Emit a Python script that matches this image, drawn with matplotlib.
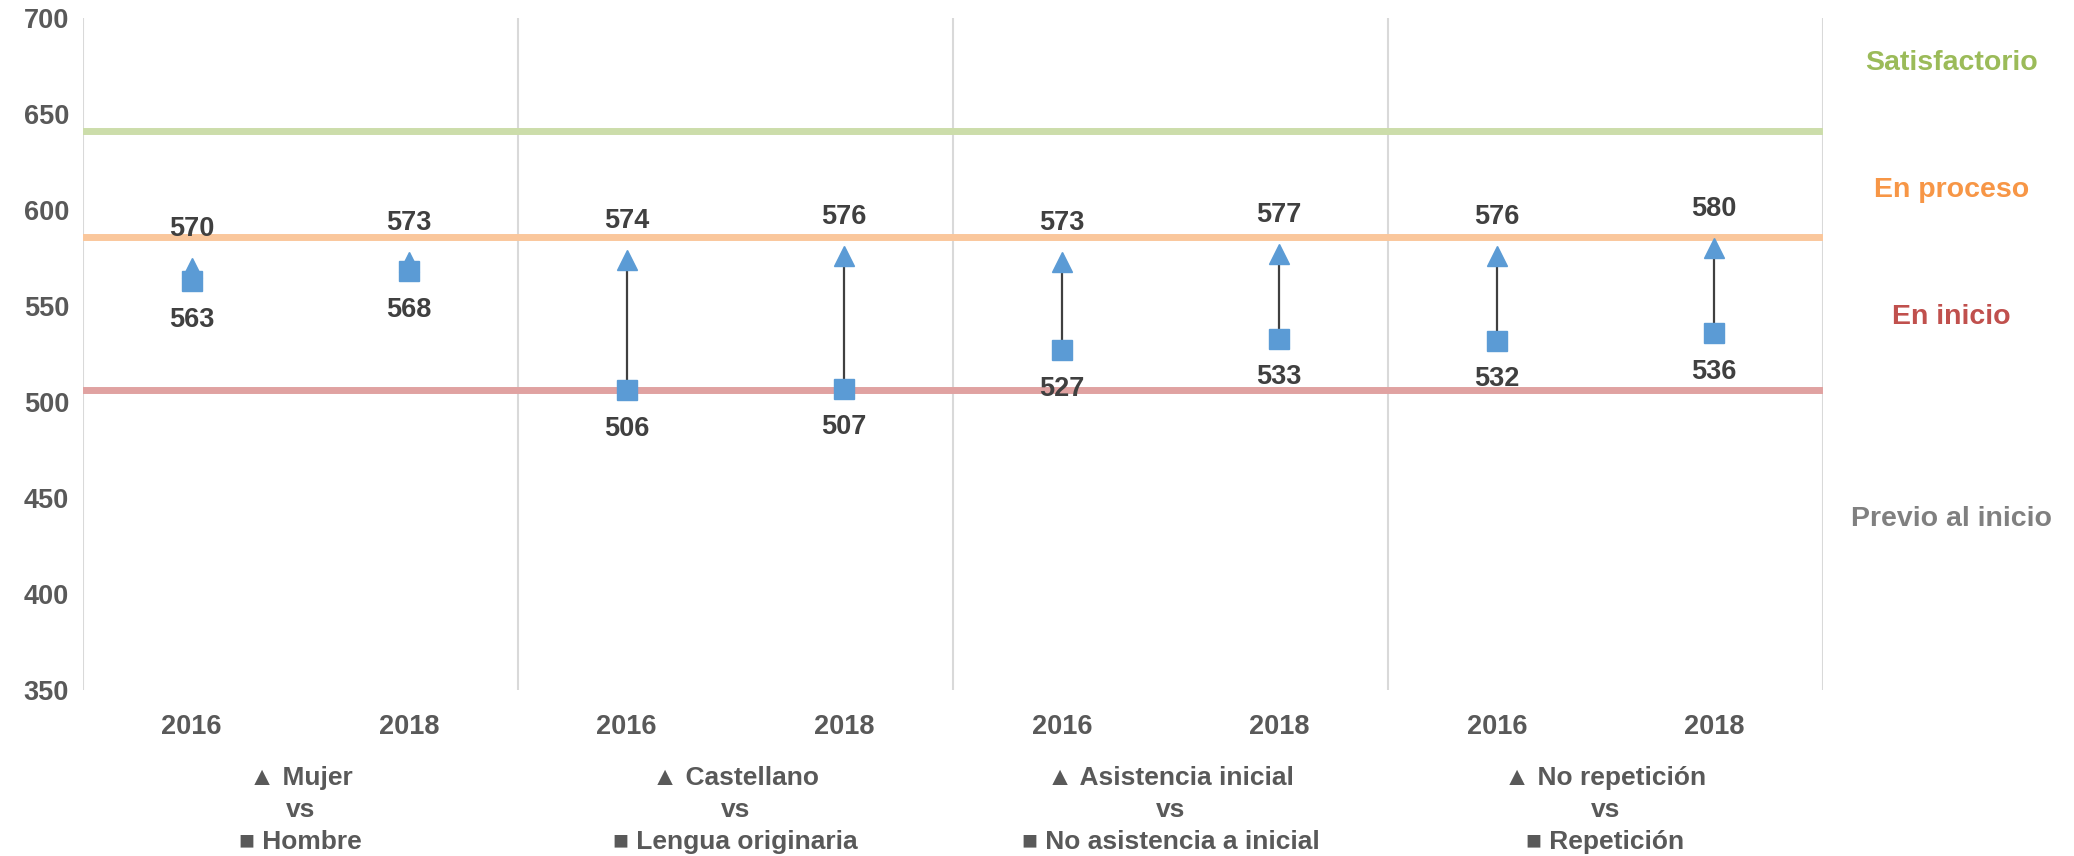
import matplotlib.pyplot as plt

# ------------------------------------------------------------------
# data
years = ['2016', '2018', '2016', '2018', '2016', '2018', '2016', '2018']
tri_vals = [570, 573, 574, 576, 573, 577, 576, 580]   # ▲ series
sq_vals = [563, 568, 506, 507, 527, 533, 532, 536]    # ■ series
groups = ['▲ Mujer\nvs\n■ Hombre',
          '▲ Castellano\nvs\n■ Lengua originaria',
          '▲ Asistencia inicial\nvs\n■ No asistencia a inicial',
          '▲ No repetición\nvs\n■ Repetición']
level_cuts = [641, 586, 506]
level_names = ['Satisfactorio', 'En proceso', 'En inicio', 'Previo al inicio']
level_label_y = [676.5, 610.5, 544, 439]

plt.rcParams['font.family'] = ['Liberation Sans', 'DejaVu Sans']

BLUE = '#5B9BD5'
cut_colors = ['#CCDDAA', '#FAC79C', '#E0A2A1']
name_colors = ['#9BBB59', '#F79646', '#C0504D', '#808080']

fig = plt.figure(figsize=(20.74, 8.56), dpi=100)
ax = fig.add_axes([0.040, 0.194, 0.839, 0.785])

x = list(range(len(years)))

# group separators
for b in [-0.5, 1.5, 3.5, 5.5, 7.5]:
    ax.axvline(b, color='#D9D9D9', lw=1.5, zorder=0)

# achievement level cut lines
for cut, c in zip(level_cuts, cut_colors):
    ax.axhline(cut, color=c, lw=5, zorder=1)

# gap lines square -> triangle
ax.vlines(x, sq_vals, tri_vals, color='#404040', lw=1.6, zorder=2)

ax.plot(x, sq_vals, 's', color=BLUE, ms=14.5, zorder=3)
ax.plot(x, tri_vals, '^', color=BLUE, ms=15, zorder=4)

for xi, t, s in zip(x, tri_vals, sq_vals):
    ax.annotate(str(t), (xi, t), xytext=(0, 28), textcoords='offset points',
                ha='center', va='center', fontsize=19.5, fontweight='bold',
                color='#404040')
    ax.annotate(str(s), (xi, s), xytext=(0, -28), textcoords='offset points',
                ha='center', va='center', fontsize=19.5, fontweight='bold',
                color='#404040')

ax.set_xlim(-0.5, 7.5)
ax.set_ylim(350, 700)
ax.set_yticks([350, 400, 450, 500, 550, 600, 650, 700])
ax.set_xticks(x)
ax.set_xticklabels(years)
for sp in ax.spines.values():
    sp.set_visible(False)
ax.tick_params(length=0)
ax.tick_params(axis='y', pad=10)
ax.tick_params(axis='x', pad=17.5)
for lbl in ax.get_xticklabels() + ax.get_yticklabels():
    lbl.set_fontsize(19.5)
    lbl.set_fontweight('bold')
    lbl.set_color('#595959')

# group labels below the years
for i, g in enumerate(groups):
    ax.text(2 * i + 0.5, -0.1786, g, transform=ax.get_xaxis_transform(),
            ha='center', va='center', fontsize=19, fontweight='bold',
            color='#595959', linespacing=1.42)

# level names on the right
for name, yv, c in zip(level_names, level_label_y, name_colors):
    ax.text(8.09, yv, name, ha='center', va='center', fontsize=20.5,
            fontweight='bold', color=c, clip_on=False)

fig.savefig('out.png', dpi=100)
